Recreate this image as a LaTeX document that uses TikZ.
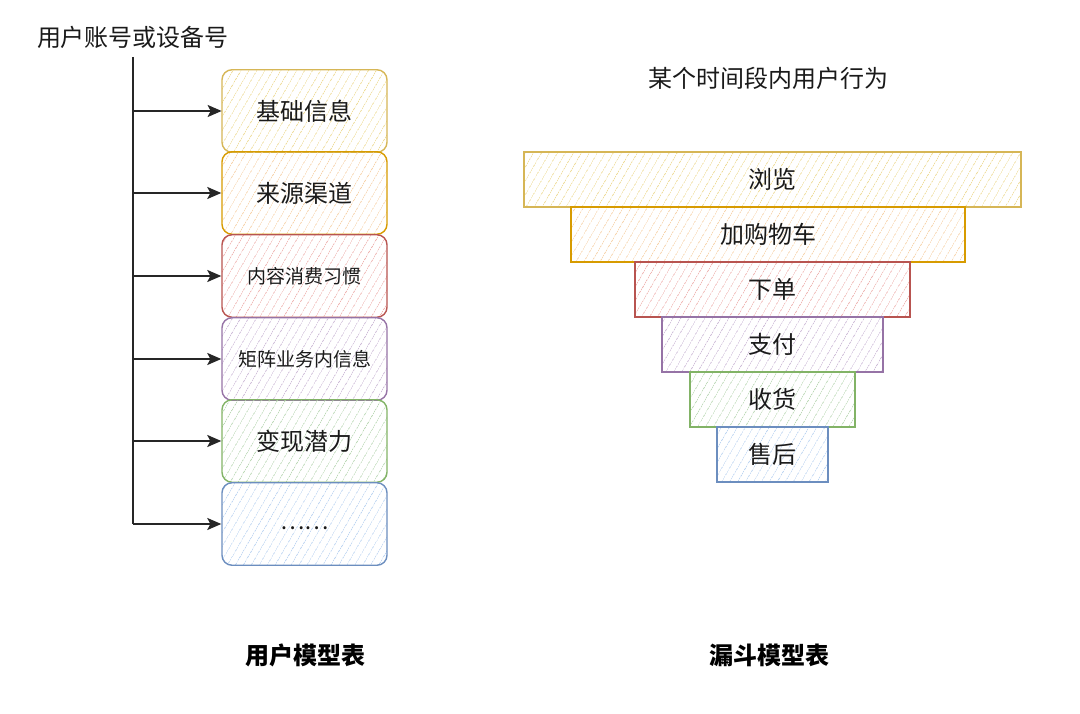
\documentclass[tikz,border=0pt]{standalone}
\usepackage{fontspec}
\setmainfont{Noto Sans CJK SC}
\usetikzlibrary{patterns.meta,arrows.meta}
\definecolor{ystroke}{HTML}{D6B656}\definecolor{yfill}{HTML}{EEDB95}
\definecolor{ostroke}{HTML}{D79B00}\definecolor{ofill}{HTML}{F7D2A8}
\definecolor{rstroke}{HTML}{B85450}\definecolor{rfill}{HTML}{EFB3B0}
\definecolor{pstroke}{HTML}{9673A6}\definecolor{pfill}{HTML}{CDBAD7}
\definecolor{gstroke}{HTML}{82B366}\definecolor{gfill}{HTML}{BBD8B5}
\definecolor{bstroke}{HTML}{6C8EBF}\definecolor{bfill}{HTML}{BCD4F2}
\definecolor{txt}{HTML}{1A1A1A}
\tikzset{
  hatch/.style 2 args={draw=#1, line width=1.4pt, pattern={Lines[angle=60,distance=6.5pt,line width=0.7pt]}, pattern color=#2},
  leftbox/.style={rectangle, rounded corners=10pt, minimum width=165pt, minimum height=82.5pt, inner sep=0pt, text=txt},
  funbox/.style={rectangle, minimum height=55pt, inner sep=0pt, text=txt, font=\fontsize{24}{28}\selectfont},
  trunk/.style={draw=black!85, line width=1.6pt},
  arr/.style={draw=black!85, line width=1.6pt, -{Stealth[length=14pt,width=12pt,inset=3pt]}},
  big/.style={font=\fontsize{24}{28}\selectfont},
  small/.style={font=\fontsize{19}{23}\selectfont},
  lbl/.style={text=txt, font=\fontsize{24}{28}\selectfont},
  bold/.style={text=black, font=\fontsize{24}{28}\selectfont\bfseries}
}
\begin{document}
\begin{tikzpicture}[x=1pt,y=-1pt]
\useasboundingbox (0,0) rectangle (1080,714);
% left tree
\node[lbl] (title) at (133,37) {用户账号或设备号};
\coordinate (top) at (133,57);
\node[leftbox, hatch={ystroke}{yfill}, big] (b1) at (304.5,111) {基础信息};
\node[leftbox, hatch={ostroke}{ofill}, big] (b2) at (304.5,193) {来源渠道};
\node[leftbox, hatch={rstroke}{rfill}, small] (b3) at (304.5,276) {内容消费习惯};
\node[leftbox, hatch={pstroke}{pfill}, small] (b4) at (304.5,359) {矩阵业务内信息};
\node[leftbox, hatch={gstroke}{gfill}, big] (b5) at (304.5,441) {变现潜力};
\node[leftbox, hatch={bstroke}{bfill}, font=\fontsize{23}{27}\selectfont] (b6) at (304.5,524) {\raisebox{-5pt}[0pt][0pt]{……}};
\draw[trunk] (top) -- (b6.west -| top);
\foreach \b in {b1,b2,b3,b4,b5,b6}{
  \draw[arr] (\b.west -| top) -- (\b.west);
}
% funnel
\node[lbl] (ftitle) at (768,78) {某个时间段内用户行为};
\node[funbox, hatch={ystroke}{yfill}, minimum width=497pt] (f1) at (772.5,179.5) {浏览};
\node[funbox, hatch={ostroke}{ofill}, minimum width=394pt] (f2) at (768,234.5) {加购物车};
\node[funbox, hatch={rstroke}{rfill}, minimum width=275pt] (f3) at (772.5,289.5) {下单};
\node[funbox, hatch={pstroke}{pfill}, minimum width=221pt] (f4) at (772.5,344.5) {支付};
\node[funbox, hatch={gstroke}{gfill}, minimum width=165pt] (f5) at (772.5,399.5) {收货};
\node[funbox, hatch={bstroke}{bfill}, minimum width=111pt] (f6) at (772.5,454.5) {售后};
% captions
\node[bold] (c1) at (305,655) {用户模型表};
\node[bold] (c2) at (769,655) {漏斗模型表};
\end{tikzpicture}
\end{document}
